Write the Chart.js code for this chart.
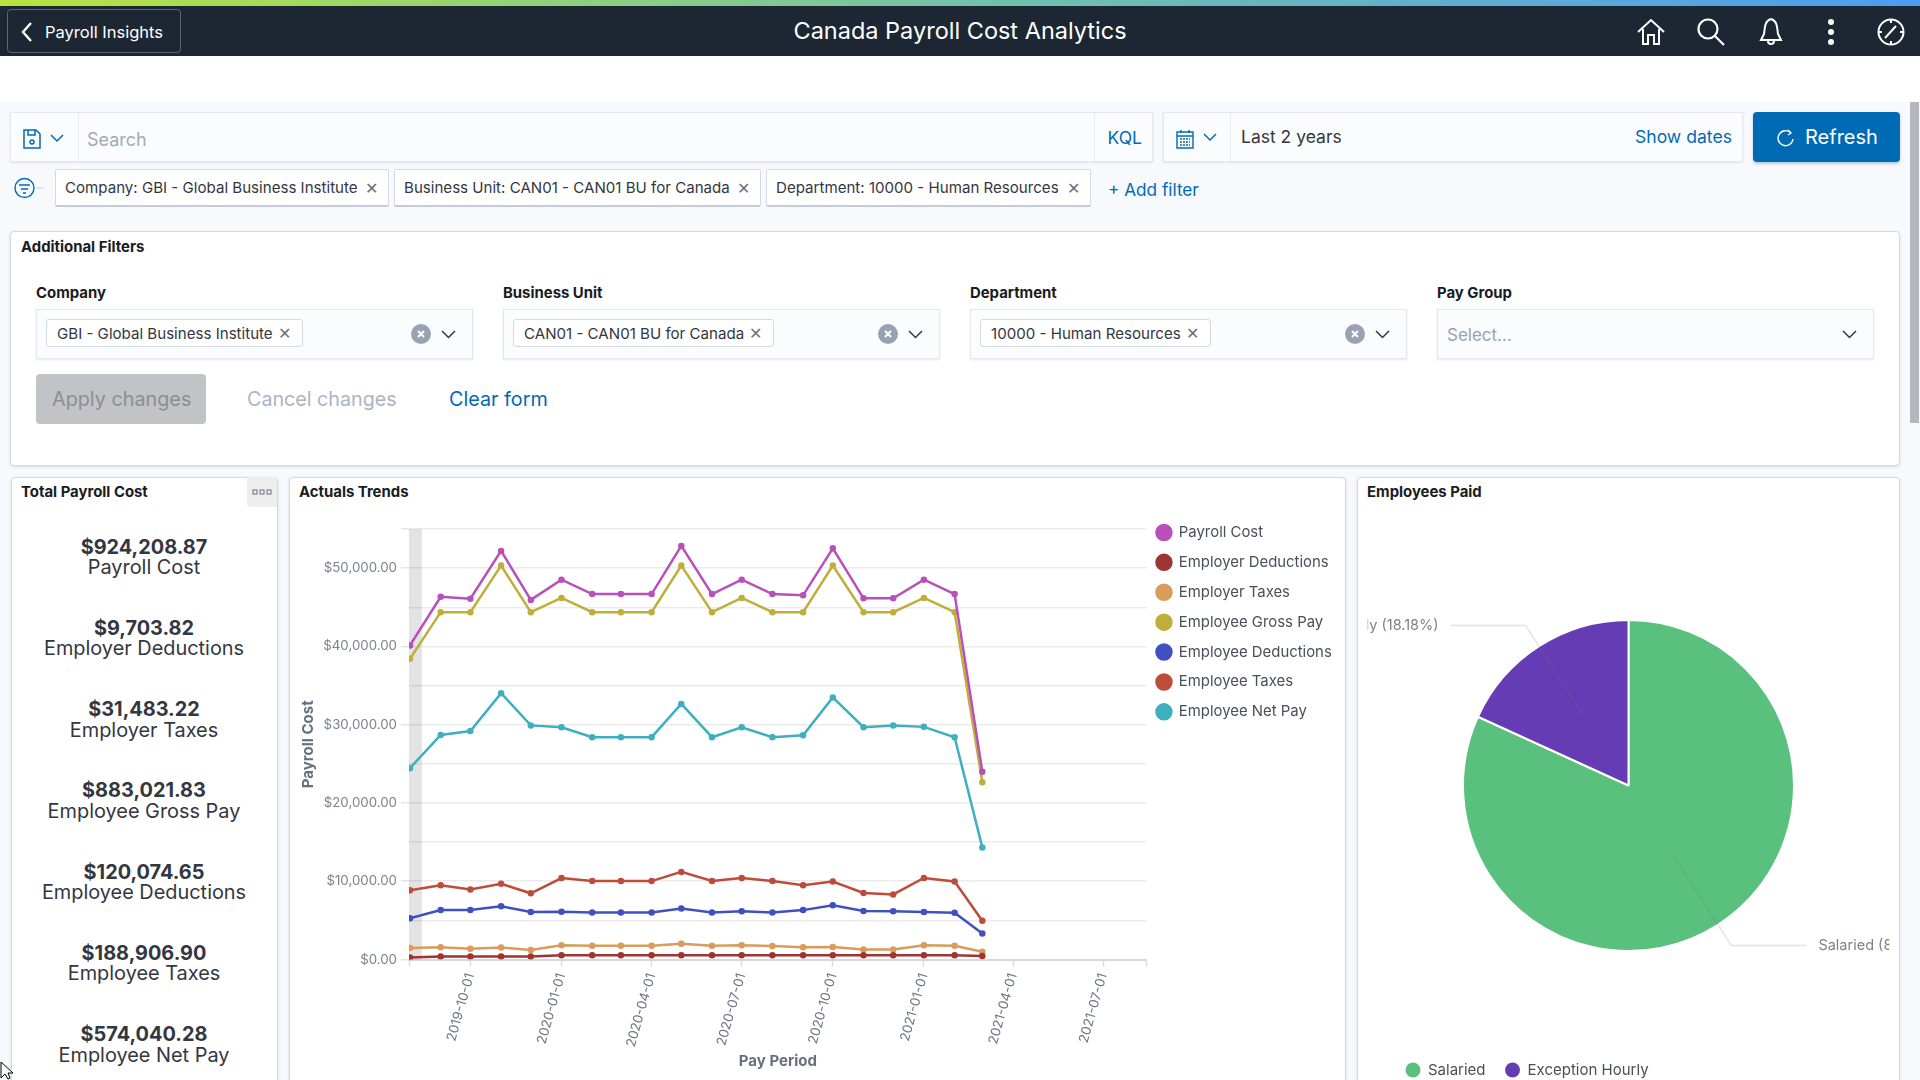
<!DOCTYPE html>
<html>
<head>
<meta charset="utf-8">
<title>Canada Payroll Cost Analytics</title>
<script src="https://cdn.jsdelivr.net/npm/chart.js@4"></script>
<style>
html, body { margin: 0; padding: 0; width: 1920px; height: 1080px; overflow: hidden; background: #f8f9fc; font-family: Inter, sans-serif; color: #343741; }
.box { position: absolute; box-sizing: border-box; }
.t { position: absolute; white-space: nowrap; transform: translateY(-50%); }
.bar { background: #fbfcfd; border: 1px solid #e4e7f0; box-shadow: 0 1px 2px rgba(100,110,140,.15); }
.pill { background: #fff; border: 1px solid #d3dae6; border-bottom: 2px solid #c3cad8; border-radius: 2px; }
.tag { background: #fff; border: 1px solid #d3dae6; border-radius: 3px; }
.panel { background: #fff; border: 1px solid #d3dae6; border-radius: 4px; box-shadow: 0 1px 3px rgba(100,110,140,.2); }
.link { color: #006bb4; }
.bold { font-weight: 700; color: #1a1c21; font-size: 14.9px; }
.fs { font-size: 15.1px; }
.metric { position: absolute; left: 11px; width: 266px; text-align: center; transform: translateY(-50%); font-size: 19.9px; line-height: 20px; }
.metric b { color: #343741; }
svg { position: absolute; overflow: visible; }
canvas { position: absolute; }
</style>
</head>
<body>
<!-- header -->
<div class="box" style="left:0;top:0;width:1920px;height:6px;background:linear-gradient(90deg,#b7e33f,#74c2a8 50%,#4d9cf0)"></div>
<div class="box" style="left:0;top:6px;width:1920px;height:50px;background:#1d2733"></div>
<div class="box" style="left:0;top:56px;width:1920px;height:46px;background:#fff"></div>
<div class="box" style="left:7px;top:9px;width:174px;height:44px;border:1px solid #5e6670;border-radius:4px"></div>
<svg style="left:21px;top:22px" width="12" height="20" fill="none" stroke="#fff" stroke-width="2.4"><path d="M10 1 L2 10 L10 19"/></svg>
<div class="t" style="left:45px;top:32px;color:#fff;font-size:16.5px">Payroll Insights</div>
<div class="t" style="left:0;width:1920px;top:30px;text-align:center;color:#fff;font-size:23.5px">Canada Payroll Cost Analytics</div>
<svg style="left:1637px;top:19px" width="28" height="26" fill="none" stroke="#fff" stroke-width="2"><path d="M1 13 L14 1 L27 13 M6 10 V25 H11 V16 H17 V25 H22 V10"/></svg>
<svg style="left:1697px;top:18px" width="28" height="28" fill="none" stroke="#fff" stroke-width="2.2"><circle cx="11" cy="11" r="9.5"/><path d="M18 18 L27 27"/></svg>
<svg style="left:1759px;top:17px" width="24" height="29" fill="none" stroke="#fff" stroke-width="2"><path d="M12 2 C5 4 6 12 5 17 L2 23 H22 L19 17 C18 12 19 4 12 2 M9 24 C9 28 15 28 15 24"/></svg>
<svg style="left:1827px;top:18px" width="8" height="28" fill="#fff"><circle cx="4" cy="4" r="3"/><circle cx="4" cy="14" r="3"/><circle cx="4" cy="24" r="3"/></svg>
<svg style="left:1877px;top:18px" width="28" height="28" fill="none" stroke="#fff" stroke-width="2"><circle cx="14" cy="14" r="12.5"/><path d="M19 8 L8 20 M14 2 V5 M14 23 V26 M2 14 H5 M23 14 H26"/></svg>
<!-- scrollbar -->
<div class="box" style="left:1910px;top:102px;width:9px;height:321px;background:#b4b7bd"></div>

<!-- query bar -->
<div class="box bar" style="left:10px;top:112px;width:1143px;height:50px"></div>
<div class="box" style="left:78px;top:113px;width:1px;height:48px;background:#e9ebf2"></div>
<div class="box" style="left:1094px;top:113px;width:1px;height:48px;background:#e9ebf2"></div>
<svg style="left:23px;top:129px" width="18" height="20" fill="none" stroke="#006bb4" stroke-width="1.5"><path d="M1 1 H13 L17 5 V19 H1 Z M5 1 V6 H12 V1"/><circle cx="9" cy="13" r="2"/></svg>
<svg style="left:50px;top:134px" width="14" height="9" fill="none" stroke="#006bb4" stroke-width="1.5"><path d="M1 1 L7 7 L13 1"/></svg>
<div class="t" style="left:87px;top:139px;color:#a4a9b3;font-size:18px">Search</div>
<div class="t link" style="left:1107.5px;top:136.5px;font-size:17.5px">KQL</div>
<div class="box bar" style="left:1163px;top:112px;width:580px;height:50px"></div>
<div class="box" style="left:1230px;top:113px;width:1px;height:48px;background:#e9ebf2"></div>
<svg style="left:1176px;top:129px" width="18" height="20" fill="none" stroke="#006bb4" stroke-width="1.4"><path d="M1 3 H17 V19 H1 Z M1 7 H17 M5 1 V4 M13 1 V4"/><path d="M4 10 H14 M4 13 H14 M4 16 H14" stroke-dasharray="2 1"/></svg>
<svg style="left:1203px;top:133px" width="14" height="9" fill="none" stroke="#006bb4" stroke-width="1.5"><path d="M1 1 L7 7 L13 1"/></svg>
<div class="t" style="left:1241px;top:136px;font-size:17.5px">Last 2 years</div>
<div class="t link" style="right:188px;top:136px;font-size:17.6px">Show dates</div>
<div class="box" style="left:1753px;top:112px;width:147px;height:50px;background:#006bb4;border-radius:4px;box-shadow:0 2px 3px rgba(0,60,110,.25)"></div>
<svg style="left:1778px;top:129px" width="16" height="18" fill="none" stroke="#fff" stroke-width="1.4"><path d="M13 4 A7.5 7.5 0 1 0 15 10 M10 1 L13 4 L10 6"/></svg>
<div class="t" style="left:1805px;top:137px;color:#fff;font-size:20px">Refresh</div>

<!-- filter pills -->
<svg style="left:14px;top:177px" width="42" height="22" fill="none" stroke="#006bb4" stroke-width="1.4"><circle cx="10.5" cy="11" r="9.5"/><path d="M5 8 H16 M7 12 H14 M9 16 H12"/><path d="M22 11 H30" stroke="#d3dae6"/></svg>
<div class="box pill" style="left:55px;top:169px;width:334px;height:38px"></div>
<div class="t fs" style="left:65px;top:187px">Company: GBI - Global Business Institute</div>
<div class="t" style="left:365px;top:188px;color:#69707d;font-size:16px">✕</div>
<div class="box pill" style="left:394px;top:169px;width:367px;height:38px"></div>
<div class="t fs" style="left:404px;top:187px">Business Unit: CAN01 - CAN01 BU for Canada</div>
<div class="t" style="left:737px;top:188px;color:#69707d;font-size:16px">✕</div>
<div class="box pill" style="left:766px;top:169px;width:325px;height:38px"></div>
<div class="t fs" style="left:776px;top:187px">Department: 10000 - Human Resources</div>
<div class="t" style="left:1067px;top:188px;color:#69707d;font-size:16px">✕</div>
<div class="t link" style="left:1108px;top:188.5px;font-size:17.2px">+ Add filter</div>

<!-- additional filters -->
<div class="box panel" style="left:10px;top:231px;width:1890px;height:235px"></div>
<div class="t bold" style="left:21px;top:247px">Additional Filters</div>
<div class="t bold" style="left:36px;top:293px">Company</div>
<div class="t bold" style="left:503px;top:293px">Business Unit</div>
<div class="t bold" style="left:970px;top:293px">Department</div>
<div class="t bold" style="left:1437px;top:293px">Pay Group</div>
<div class="box bar" style="left:36px;top:309px;width:437px;height:50px"></div>
<div class="box tag" style="left:46px;top:319px;width:257px;height:28px"></div>
<div class="t fs" style="left:57px;top:333px">GBI - Global Business Institute</div>
<div class="t" style="left:278px;top:333px;color:#69707d;font-size:16px">✕</div>
<svg style="left:411px;top:324px" width="20" height="20"><circle cx="10" cy="10" r="10" fill="#98a2b3"/><path d="M7 7 L13 13 M13 7 L7 13" stroke="#fff" stroke-width="2"/></svg>
<svg style="left:441px;top:330px" width="15" height="9" fill="none" stroke="#343741" stroke-width="1.5"><path d="M1 1 L7.5 7.5 L14 1"/></svg>
<div class="box bar" style="left:503px;top:309px;width:437px;height:50px"></div>
<div class="box tag" style="left:513px;top:319px;width:261px;height:28px"></div>
<div class="t fs" style="left:524px;top:333px">CAN01 - CAN01 BU for Canada</div>
<div class="t" style="left:749px;top:333px;color:#69707d;font-size:16px">✕</div>
<svg style="left:878px;top:324px" width="20" height="20"><circle cx="10" cy="10" r="10" fill="#98a2b3"/><path d="M7 7 L13 13 M13 7 L7 13" stroke="#fff" stroke-width="2"/></svg>
<svg style="left:908px;top:330px" width="15" height="9" fill="none" stroke="#343741" stroke-width="1.5"><path d="M1 1 L7.5 7.5 L14 1"/></svg>
<div class="box bar" style="left:970px;top:309px;width:437px;height:50px"></div>
<div class="box tag" style="left:980px;top:319px;width:231px;height:28px"></div>
<div class="t fs" style="left:991px;top:333px">10000 - Human Resources</div>
<div class="t" style="left:1186px;top:333px;color:#69707d;font-size:16px">✕</div>
<svg style="left:1345px;top:324px" width="20" height="20"><circle cx="10" cy="10" r="10" fill="#98a2b3"/><path d="M7 7 L13 13 M13 7 L7 13" stroke="#fff" stroke-width="2"/></svg>
<svg style="left:1375px;top:330px" width="15" height="9" fill="none" stroke="#343741" stroke-width="1.5"><path d="M1 1 L7.5 7.5 L14 1"/></svg>
<div class="box bar" style="left:1437px;top:309px;width:437px;height:50px"></div>
<div class="t" style="left:1447px;top:335px;color:#98a2b3;font-size:17px">Select...</div>
<svg style="left:1842px;top:330px" width="15" height="9" fill="none" stroke="#343741" stroke-width="1.5"><path d="M1 1 L7.5 7.5 L14 1"/></svg>
<div class="box" style="left:36px;top:374px;width:170px;height:50px;background:#c2c3c6;border-radius:4px"></div>
<div class="t" style="left:52px;top:399px;color:#8c8e94;font-size:19.8px">Apply changes</div>
<div class="t" style="left:247px;top:399px;color:#abb4c4;font-size:19.7px">Cancel changes</div>
<div class="t link" style="left:449px;top:399px;font-size:19.8px">Clear form</div>

<!-- panels -->
<div class="box panel" style="left:11px;top:477px;width:267px;height:620px"></div>
<div class="box panel" style="left:289px;top:477px;width:1057px;height:620px"></div>
<div class="box panel" style="left:1357px;top:477px;width:543px;height:620px"></div>
<div class="t bold" style="left:21px;top:492px">Total Payroll Cost</div>
<div class="t bold" style="left:299px;top:492px">Actuals Trends</div>
<div class="t bold" style="left:1367px;top:492px">Employees Paid</div>
<div class="box" style="left:247px;top:477px;width:30px;height:30px;background:#eee;border-radius:0 4px 0 4px"></div>
<svg style="left:252px;top:489px" width="21" height="6" fill="none" stroke="#69707d" stroke-width="1"><rect x="1" y="1" width="4" height="4"/><rect x="8" y="1" width="4" height="4"/><rect x="15" y="1" width="4" height="4"/></svg>
<div id="metrics"></div>
<canvas id="trendChart" width="1056" height="570" style="left:289px;top:510px"></canvas>
<canvas id="paidChart" width="543" height="570" style="left:1357px;top:510px"></canvas>
<svg style="left:0;top:1061px" width="13" height="19"><path d="M1 1 V17 L5 13 L8 18 L10 17 L8 12 L13 12 Z" fill="#fff" stroke="#000"/></svg>

<script>
const metricValues = ["$924,208.87", "$9,703.82", "$31,483.22", "$883,021.83", "$120,074.65", "$188,906.90", "$574,040.28"];
const metricLabels = ["Payroll Cost", "Employer Deductions", "Employer Taxes", "Employee Gross Pay", "Employee Deductions", "Employee Taxes", "Employee Net Pay"];

const payPeriods = ["2019-08-01", "2019-09-01", "2019-10-01", "2019-11-01", "2019-12-01", "2020-01-01", "2020-02-01", "2020-03-01", "2020-04-01", "2020-05-01", "2020-06-01", "2020-07-01", "2020-08-01", "2020-09-01", "2020-10-01", "2020-11-01", "2020-12-01", "2021-01-01", "2021-02-01", "2021-03-01"];
const payrollCost = [40130, 46330, 46090, 52200, 45940, 48530, 46680, 46680, 46680, 52840, 46680, 48530, 46680, 46530, 52540, 46140, 46140, 48530, 46680, 24000];
const employerDeductions = [240, 390, 390, 390, 390, 540, 540, 540, 540, 540, 540, 540, 540, 540, 540, 540, 540, 540, 540, 440];
const employerTaxes = [1470, 1560, 1370, 1520, 1220, 1810, 1760, 1760, 1760, 2000, 1760, 1810, 1710, 1560, 1610, 1270, 1270, 1810, 1760, 980];
const employeeGrossPay = [38420, 44380, 44380, 50340, 44380, 46190, 44380, 44380, 44380, 50340, 44380, 46190, 44380, 44380, 50340, 44380, 44380, 46190, 44380, 22630];
const employeeDeductions = [5280, 6310, 6310, 6790, 6060, 6110, 6010, 6010, 6010, 6500, 6010, 6160, 6010, 6310, 6940, 6210, 6160, 6060, 5960, 3320];
const employeeTaxes = [8850, 9480, 8940, 9680, 8460, 10410, 10020, 10020, 10020, 11190, 10020, 10410, 10020, 9480, 9970, 8500, 8310, 10410, 9970, 4940];
const employeeNetPay = [24440, 28690, 29180, 34020, 29910, 29670, 28400, 28400, 28400, 32650, 28400, 29670, 28400, 28640, 33480, 29670, 29910, 29720, 28400, 14320];

const xTickDates = ["2019-10-01", "2020-01-01", "2020-04-01", "2020-07-01", "2020-10-01", "2021-01-01", "2021-04-01", "2021-07-01"];
const xRange = ["2019-07-31", "2021-08-14"];
const bandRange = ["2019-07-31", "2019-08-13"];

const payTypes = ["Salaried", "Exception Hourly"];
const payTypeCounts = [9, 2];

const TREND_COLORS = ["#b950b9", "#9e3533", "#d99c5a", "#bfae3a", "#4050c0", "#bd4c3a", "#3eafbf"];
const PIE_COLORS = ["#59c17d", "#663cb5"];

document.addEventListener("DOMContentLoaded", () => {
    Chart.defaults.font.family = "Inter";
    Chart.defaults.animation = false;
    renderMetrics();
    renderTrendChart();
    renderPaidChart();
});

function renderMetrics() {
    const container = document.getElementById("metrics");
    metricValues.forEach((value, i) => {
        const top = 546.6 + i * 81.25;
        container.innerHTML += `<div class="metric" style="top:${top}px"><b>${value}</b></div>` +
            `<div class="metric" style="top:${top + 20.4}px">${metricLabels[i]}</div>`;
    });
}

function day(text) {
    return Date.parse(text + "T00:00:00Z");
}

function lineSet(label, values, color) {
    return {
        label: label,
        data: values.map((y, i) => ({ x: day(payPeriods[i]), y: y })),
        borderColor: color,
        backgroundColor: color,
        borderWidth: 2.5,
        pointRadius: 2,
        tension: 0
    };
}

const shadedBand = {
    id: "shadedBand",
    beforeDatasetsDraw(chart) {
        const { ctx, chartArea, scales } = chart;
        const from = scales.x.getPixelForValue(day(bandRange[0]));
        const to = scales.x.getPixelForValue(day(bandRange[1]));
        ctx.save();
        ctx.fillStyle = "rgba(0,0,0,0.11)";
        ctx.fillRect(from, chartArea.top, to - from, chartArea.bottom - chartArea.top);
        ctx.restore();
    }
};

// the legend box has no positioning options, so pin it here
function pinLegend(width, height, left, top) {
    return {
        id: "pinLegend",
        beforeLayout(chart) {
            const legend = chart.legend;
            if (legend.pinned) return;
            const fit = legend.fit;
            legend.fit = function () {
                fit.call(this);
                if (width !== null) this.width = width;
                if (height !== null) this.height = height;
            };
            legend.pinned = true;
        },
        afterLayout(chart) {
            chart.legend.left = left;
            chart.legend.top = top;
            chart.legend.right = chart.width;
            chart.legend.bottom = chart.height;
        }
    };
}

function renderTrendChart() {
    const series = [payrollCost, employerDeductions, employerTaxes, employeeGrossPay, employeeDeductions, employeeTaxes, employeeNetPay];

    new Chart(document.getElementById("trendChart"), {
        type: "line",
        data: { datasets: series.map((values, i) => lineSet(metricLabels[i], values, TREND_COLORS[i])) },
        plugins: [shadedBand, pinLegend(198.3, null, 852.5, 0)],
        options: {
            responsive: false,
            layout: { padding: { left: 0, right: 0, top: 19, bottom: 10 } },
            plugins: {
                tooltip: { enabled: false },
                legend: {
                    position: "right",
                    align: "start",
                    labels: {
                        usePointStyle: true,
                        pointStyle: "circle",
                        boxWidth: 15,
                        boxHeight: 10.6,
                        padding: 15,
                        color: "#4b4f5a",
                        font: { size: 14.9 }
                    }
                }
            },
            scales: {
                x: {
                    type: "linear",
                    min: day(xRange[0]),
                    max: day(xRange[1]),
                    afterFit(scale) { scale.height = 110.5; },
                    afterBuildTicks(scale) {
                        const values = [day(xRange[0]), ...xTickDates.map(day), day(xRange[1])];
                        scale.ticks = values.map(value => ({ value: value }));
                    },
                    grid: { drawOnChartArea: false, tickLength: 7, tickColor: "#dcdcdc", tickWidth: 1.5 },
                    border: { color: "#d8d8d8", width: 2 },
                    ticks: {
                        autoSkip: false,
                        minRotation: 74,
                        maxRotation: 74,
                        padding: 5,
                        color: "#6f7683",
                        font: { size: 13.3 },
                        callback(value) {
                            const text = new Date(value).toISOString().slice(0, 10);
                            return xTickDates.includes(text) ? text : "";
                        }
                    },
                    title: {
                        display: true,
                        text: "Pay Period",
                        color: "#69707d",
                        font: { size: 15, weight: "bold" },
                        padding: { top: 0, bottom: 0 }
                    }
                },
                y: {
                    min: 0,
                    max: 55000,
                    afterFit(scale) { scale.width = 120; },
                    grid: {
                        color: "#ebebeb",
                        lineWidth: 1.5,
                        tickLength: 8,
                        tickColor: ctx => (ctx.tick.value % 10000 === 0 || ctx.tick.value === 55000) ? "#e4e4e4" : "rgba(0,0,0,0)"
                    },
                    border: { display: false },
                    ticks: {
                        stepSize: 5000,
                        autoSkip: false,
                        padding: 4,
                        color: "#7b8290",
                        font: { size: 13.3 },
                        callback(value) {
                            if (value % 10000 !== 0) return "";
                            return "$" + value.toLocaleString("en-US", { minimumFractionDigits: 2 });
                        }
                    },
                    title: {
                        display: true,
                        text: "Payroll Cost",
                        color: "#69707d",
                        font: { size: 15, weight: "bold" },
                        padding: { top: 10.6, bottom: 0 }
                    }
                }
            }
        }
    });
}

const pieLabels = {
    id: "pieLabels",
    afterDatasetsDraw(chart) {
        const { ctx } = chart;
        const total = payTypeCounts.reduce((a, b) => a + b, 0);
        ctx.save();
        ctx.beginPath();
        ctx.rect(10.7, 0, 521.6, chart.height);
        ctx.clip();
        ctx.font = "14.5px Inter";
        ctx.textBaseline = "middle";
        chart.getDatasetMeta(0).data.forEach((arc, i) => {
            const mid = (arc.startAngle + arc.endAngle) / 2;
            const side = Math.cos(mid) >= 0 ? 1 : -1;
            const x1 = arc.x + Math.cos(mid) * arc.outerRadius * 0.51;
            const y1 = arc.y + Math.sin(mid) * arc.outerRadius * 0.51;
            const x2 = arc.x + Math.cos(mid) * arc.outerRadius * 1.15;
            const y2 = arc.y + Math.sin(mid) * arc.outerRadius * 1.15;
            const x3 = x2 + side * 75;
            ctx.strokeStyle = "rgba(110,115,130,0.2)";
            ctx.lineWidth = 1.5;
            ctx.beginPath();
            ctx.moveTo(x1, y1);
            ctx.lineTo(x2, y2);
            ctx.lineTo(x3, y2);
            ctx.stroke();
            const share = (payTypeCounts[i] / total * 100).toFixed(2);
            ctx.fillStyle = "#7b8290";
            ctx.textAlign = side > 0 ? "left" : "right";
            ctx.fillText(`${payTypes[i]} (${share}%)`, x3 + side * 12, y2);
        });
        ctx.restore();
    }
};

function renderPaidChart() {
    new Chart(document.getElementById("paidChart"), {
        type: "pie",
        data: {
            labels: payTypes,
            datasets: [{
                data: payTypeCounts,
                backgroundColor: PIE_COLORS,
                borderColor: "#fff",
                borderWidth: 2,
                hoverOffset: 0
            }]
        },
        plugins: [pieLabels, pinLegend(null, 0, 29, 533)],
        options: {
            responsive: false,
            layout: { padding: { left: 105, right: 105, top: 109, bottom: 128 } },
            plugins: {
                tooltip: { enabled: false },
                legend: {
                    position: "bottom",
                    align: "start",
                    labels: {
                        usePointStyle: true,
                        pointStyle: "circle",
                        boxWidth: 15,
                        boxHeight: 10.6,
                        padding: 19.5,
                        color: "#4b4f5a",
                        font: { size: 15 },
                        generateLabels(chart) {
                            const items = Chart.overrides.pie.plugins.legend.labels.generateLabels(chart);
                            return items.map(item => ({ ...item, lineWidth: 0 }));
                        }
                    }
                }
            }
        }
    });
}
</script>
</body>
</html>
